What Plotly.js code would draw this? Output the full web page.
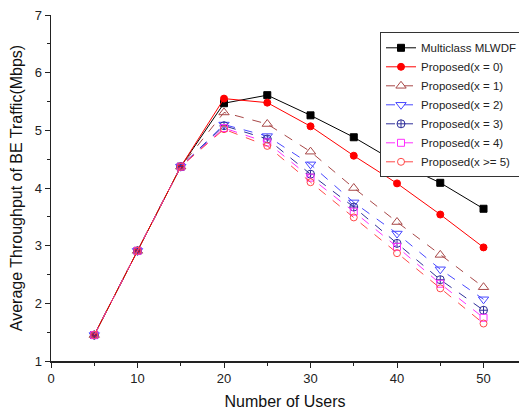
<!DOCTYPE html>
<html>
<head>
<meta charset="utf-8">
<script src="https://cdn.plot.ly/plotly-3.0.1.min.js"></script>
<style>html,body{margin:0;padding:0;background:#fff;}#chart{width:519px;height:411px;}</style>
</head>
<body>
<div id="chart"></div>
<script>
const users = [5, 10, 15, 20, 25, 30, 35, 40, 45, 50];
const multiclassMLWDF = [1.45, 2.91, 4.37, 5.47, 5.61, 5.26, 4.88, 4.44, 4.09, 3.64];
const proposedX0 = [1.45, 2.91, 4.37, 5.55, 5.48, 5.07, 4.56, 4.08, 3.54, 2.97];
const proposedX1 = [1.45, 2.91, 4.37, 5.31, 5.11, 4.63, 4.00, 3.41, 2.84, 2.28];
const proposedX2 = [1.45, 2.91, 4.37, 5.10, 4.90, 4.41, 3.75, 3.21, 2.59, 2.07];
const proposedX3 = [1.45, 2.91, 4.37, 5.08, 4.85, 4.24, 3.67, 3.04, 2.41, 1.88];
const proposedX4 = [1.45, 2.91, 4.37, 5.04, 4.79, 4.18, 3.59, 2.98, 2.34, 1.75];
const proposedX5 = [1.45, 2.91, 4.37, 5.02, 4.73, 4.10, 3.49, 2.87, 2.26, 1.65];
const seriesNames = ["Multiclass MLWDF", "Proposed(x = 0)", "Proposed(x = 1)", "Proposed(x = 2)",
  "Proposed(x = 3)", "Proposed(x = 4)", "Proposed(x >= 5)"];

const series = [multiclassMLWDF, proposedX0, proposedX1, proposedX2, proposedX3, proposedX4, proposedX5];
const styles = [
  {color: "#000000", dash: "solid", symbol: "square", size: 7},
  {color: "#ff0000", dash: "solid", symbol: "circle", size: 7},
  {color: "#a84848", dash: "dash", symbol: "triangle-up-open", size: 9},
  {color: "#4848ff", dash: "dash", symbol: "triangle-down-open", size: 9},
  {color: "#30309a", dash: "dash", symbol: "circle-cross-open", size: 8},
  {color: "#ff30ff", dash: "dash", symbol: "square-open", size: 7},
  {color: "#ff4848", dash: "dash", symbol: "circle-open", size: 7}
];

const traces = series.map((ys, i) => ({
  x: users, y: ys, name: seriesNames[i], type: "scatter", mode: "lines+markers",
  line: {color: styles[i].color, width: 1, dash: styles[i].dash},
  marker: {color: styles[i].color, symbol: styles[i].symbol, size: styles[i].size, line: {color: styles[i].color, width: 1}}
}));

const layout = {
  width: 519, height: 411,
  margin: {l: 51, r: 0, t: 15, b: 50, autoexpand: false},
  paper_bgcolor: "#fff", plot_bgcolor: "#fff",
  font: {family: "Liberation Sans, Arial, sans-serif", size: 13, color: "#222"},
  showlegend: true,
  legend: {x: 0.703, y: 0.95, xanchor: "left", yanchor: "top", bgcolor: "#fff",
    bordercolor: "#333", borderwidth: 1, font: {size: 11.5, color: "#222"}, tracegroupgap: 0},
  xaxis: {range: [0, 54.1], tickvals: [0, 10, 20, 30, 40, 50], ticks: "outside", ticklen: 5,
    tickcolor: "#222", showline: true, linecolor: "#222", linewidth: 1.5, showgrid: false, zeroline: false,
    minor: {tickvals: [5, 15, 25, 35, 45], ticks: "outside", ticklen: 3, tickcolor: "#222"},
    title: {text: "Number of Users", font: {size: 16, color: "#111"}, standoff: 10}},
  yaxis: {range: [1, 7], tickvals: [1, 2, 3, 4, 5, 6, 7], ticks: "outside", ticklen: 5,
    tickcolor: "#222", showline: true, linecolor: "#222", linewidth: 1.5, showgrid: false, zeroline: false,
    minor: {tickvals: [1.5, 2.5, 3.5, 4.5, 5.5, 6.5], ticks: "outside", ticklen: 3, tickcolor: "#222"},
    title: {text: "Average Throughput of BE Traffic(Mbps)", font: {size: 16, color: "#111"}, standoff: 8}}
};

Plotly.newPlot("chart", traces, layout, {displayModeBar: false, staticPlot: true});
</script>
</body>
</html>
